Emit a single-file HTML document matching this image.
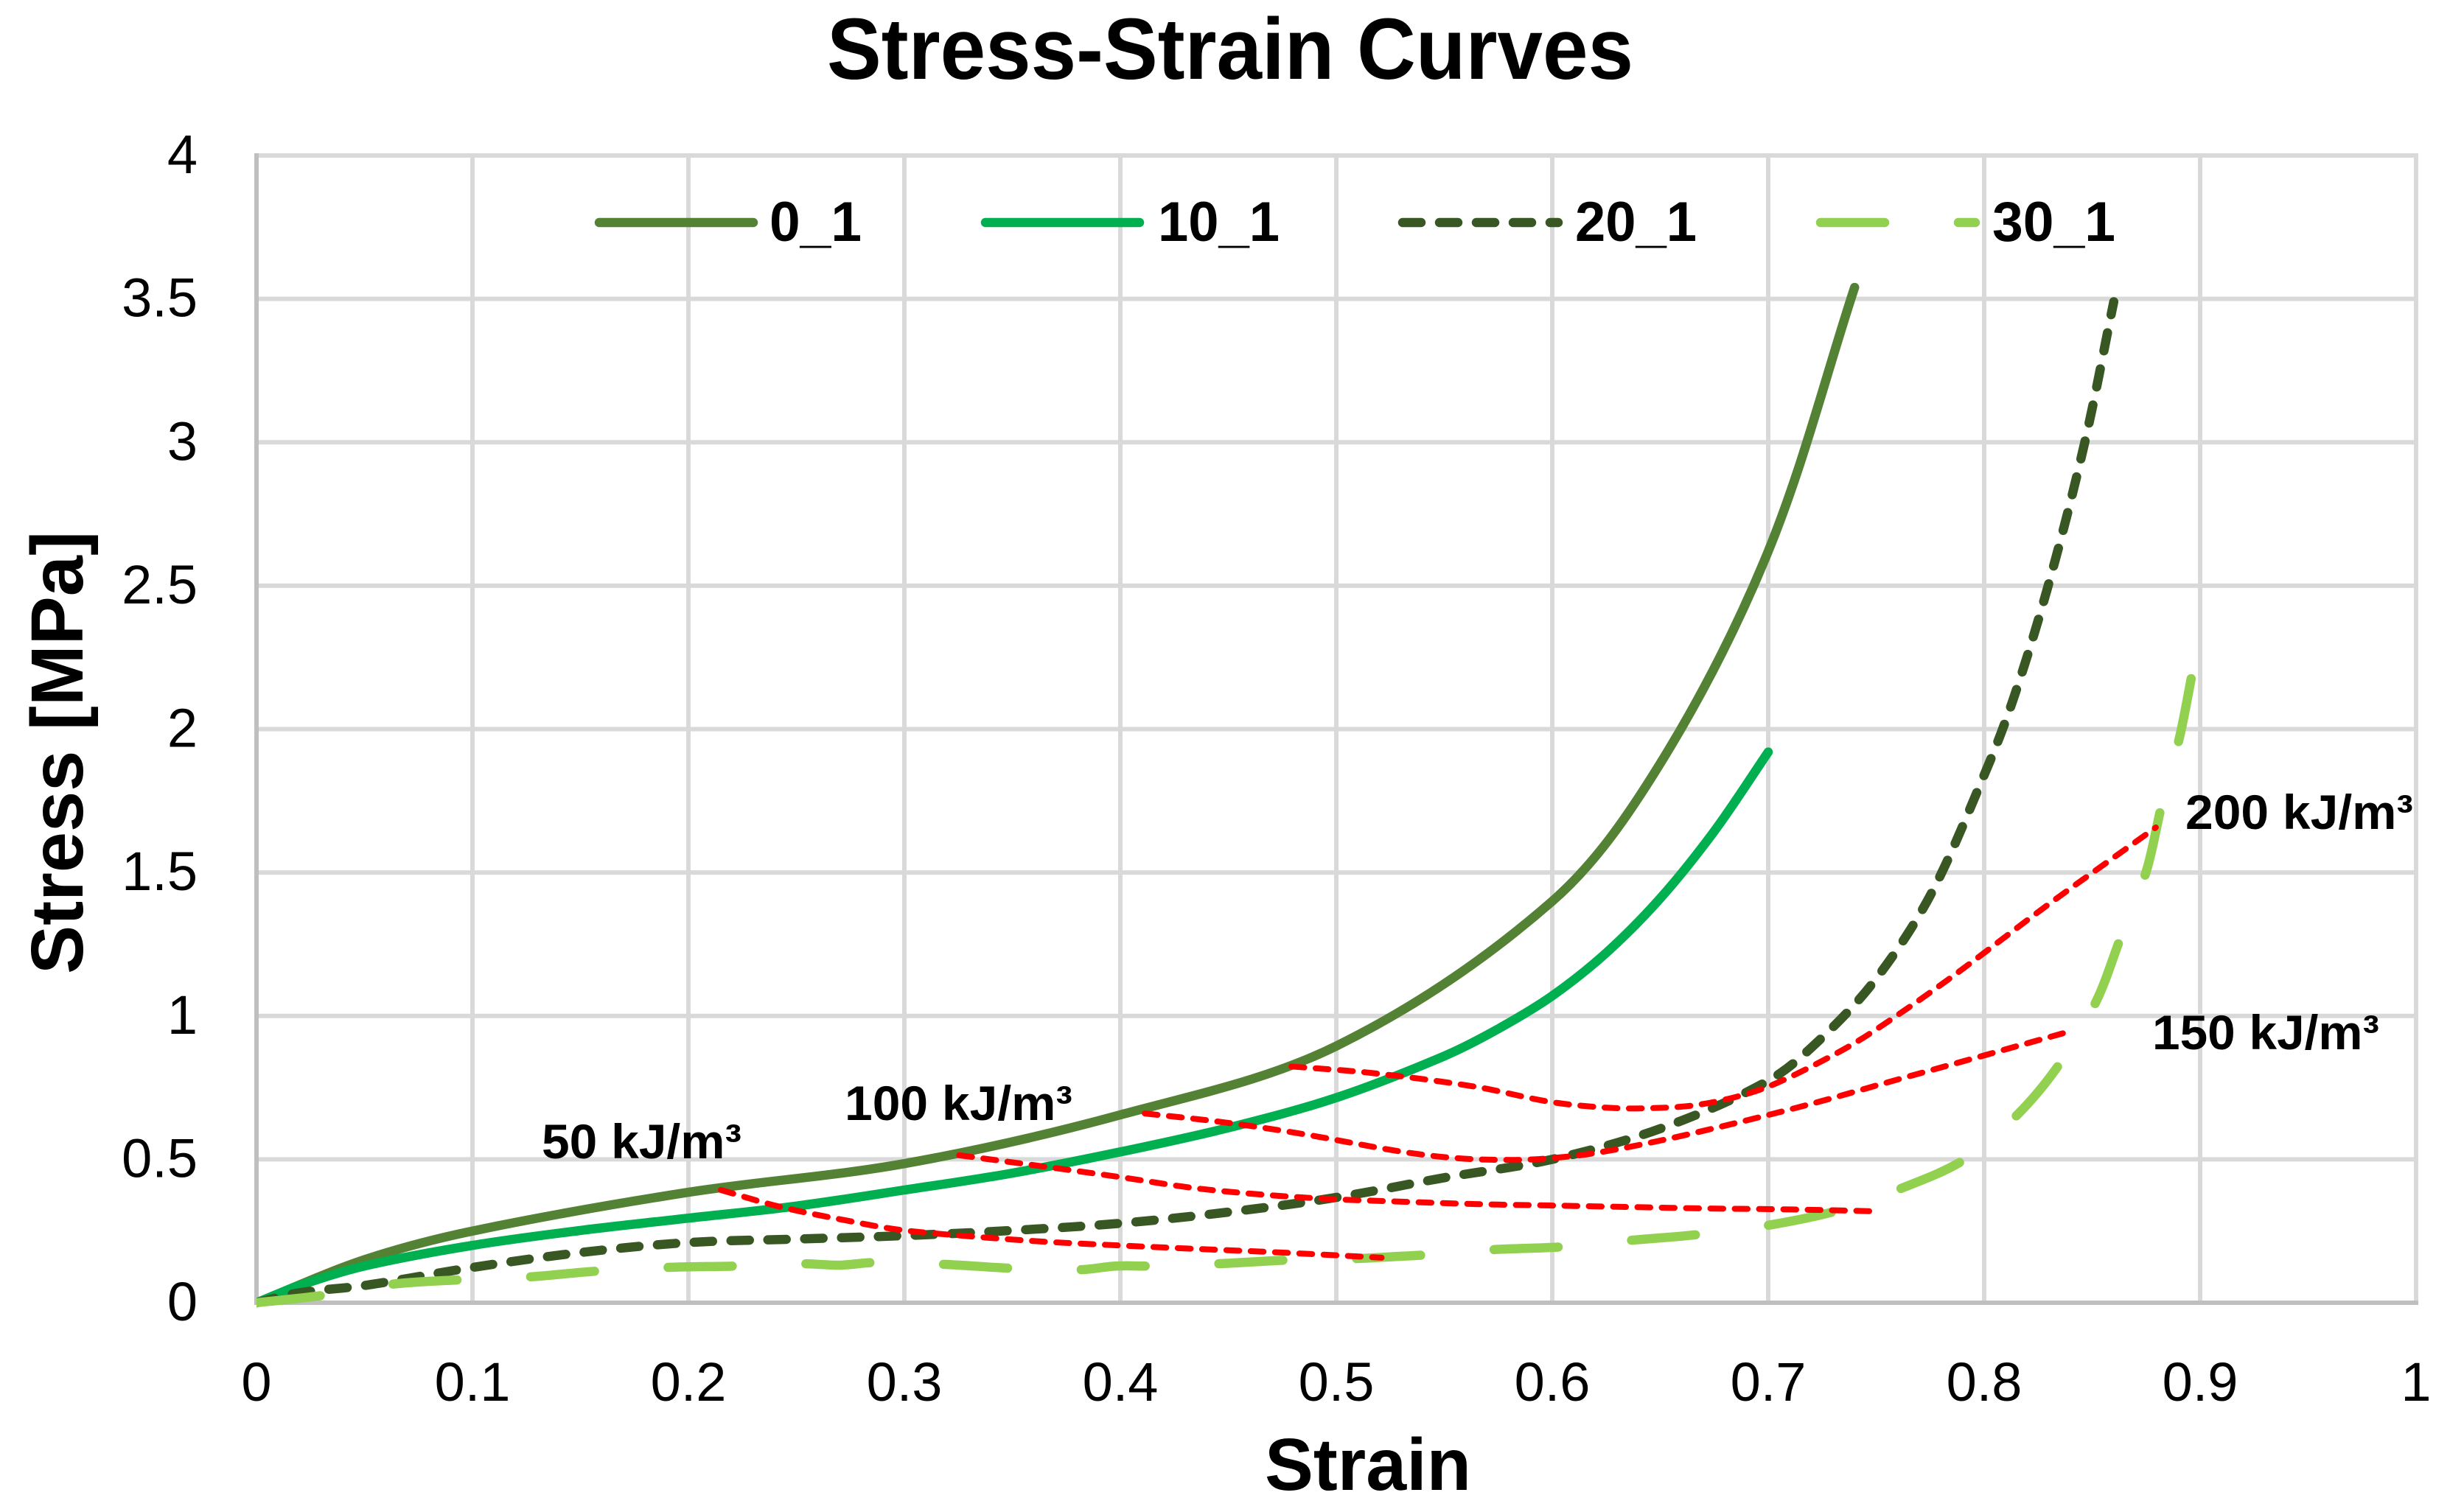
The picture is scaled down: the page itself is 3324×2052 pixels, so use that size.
<!DOCTYPE html>
<html lang="en">
<head>
<meta charset="utf-8">
<title>Stress-Strain Curves</title>
<style>
html,body{margin:0;padding:0;background:#fff;width:3324px;height:2052px;overflow:hidden}
svg{display:block}
text{font-family:"Liberation Sans",sans-serif;fill:#000}
.b{font-weight:700}
</style>
</head>
<body>
<svg id="chart" xmlns="http://www.w3.org/2000/svg" width="3324" height="2052" viewBox="0 0 3324 2052">
  <defs><clipPath id="plot-clip"><rect x="348" y="100" width="2990" height="1700"/></clipPath></defs>
  <rect x="0" y="0" width="3324" height="2052" fill="#fff"/>
  <g id="grid"></g>
  <g id="axes"></g>
  <g id="legend-lines">
    <line x1="813" y1="302" x2="1022" y2="302" stroke="#548235" stroke-width="12.5" stroke-linecap="round"/>
    <line x1="1337" y1="302" x2="1546" y2="302" stroke="#00B050" stroke-width="12.5" stroke-linecap="round"/>
    <line x1="1903" y1="302" x2="2114" y2="302" stroke="#385723" stroke-width="12.5" stroke-linecap="round" stroke-dasharray="25 25"/>
    <line x1="2470" y1="302" x2="2680" y2="302" stroke="#92D050" stroke-width="12.5" stroke-linecap="round" stroke-dasharray="87 100"/>
    <text class="b" x="1044" y="327" font-size="76" textLength="125" lengthAdjust="spacingAndGlyphs">0_1</text>
    <text class="b" x="1571" y="327" font-size="76" textLength="165" lengthAdjust="spacingAndGlyphs">10_1</text>
    <text class="b" x="2137" y="327" font-size="76" textLength="165" lengthAdjust="spacingAndGlyphs">20_1</text>
    <text class="b" x="2703" y="327" font-size="76" textLength="167" lengthAdjust="spacingAndGlyphs">30_1</text>
  </g>
  <g id="series" clip-path="url(#plot-clip)"></g>
  <text class="b" x="1122" y="107" font-size="118" textLength="1094" lengthAdjust="spacingAndGlyphs">Stress-Strain Curves</text>
  <text class="b" x="1716" y="2022" font-size="100" textLength="280" lengthAdjust="spacingAndGlyphs">Strain</text>
  <text class="b" transform="translate(112 1322) rotate(-90)" x="0" y="0" font-size="100" textLength="601" lengthAdjust="spacingAndGlyphs">Stress [MPa]</text>
  <text class="b" x="735" y="1572" font-size="66" textLength="271" lengthAdjust="spacingAndGlyphs">50 kJ/m³</text>
  <text class="b" x="1146" y="1520" font-size="66" textLength="309" lengthAdjust="spacingAndGlyphs">100 kJ/m³</text>
  <text class="b" x="2920" y="1424" font-size="66" textLength="308" lengthAdjust="spacingAndGlyphs">150 kJ/m³</text>
  <text class="b" x="2965" y="1125" font-size="66" textLength="309" lengthAdjust="spacingAndGlyphs">200 kJ/m³</text>
</svg>
<script>
var xTickLabels = ["0","0.1","0.2","0.3","0.4","0.5","0.6","0.7","0.8","0.9","1"];
var yTickLabels = ["0","0.5","1","1.5","2","2.5","3","3.5","4"];

var strain0 = [0,.05,.1,.2,.3,.4,.5,.6,.65,.7,.74];
var stress0 = [0,.15,.25,.385,.485,.655,.895,1.40,1.88,2.62,3.54];

var strain10 = [0,.02,.05,.1,.15,.2,.25,.3,.35,.4,.45,.5,.55,.575,.6,.625,.65,.675,.7];
var stress10 = [0,.06,.128,.2,.252,.295,.337,.393,.452,.526,.61,.715,.86,.955,1.07,1.22,1.41,1.644,1.92];

var strain20 = [0,.02,.05,.1,.15,.2,.25,.3,.35,.4,.45,.5,.55,.6,.65,.7,.725,.75,.775,.8,.8136,.83,.8465,.86];
var stress20 = [0,.035,.06,.123,.175,.21,.222,.234,.252,.277,.316,.367,.436,.50,.607,.774,.925,1.13,1.42,1.84,2.107,2.51,2.997,3.49];

var strain30 = [0,.03,.062,.094,.126,.157,.19,.222,.253,.27,.286,.318,.35,.381,.398,.414,.445,.478,.509,.53,.542,.572,.605,.637,.669,.70,.732,.762,.791,.8157,.8354,.852,.863,.875,.882,.8905,.8966];
var stress30 = [0,.025,.064,.08,.09,.11,.123,.128,.136,.131,.14,.134,.12,.115,.128,.128,.136,.149,.154,.162,.167,.185,.195,.218,.239,.27,.321,.40,.50,.658,.838,1.053,1.269,1.503,1.729,1.973,2.205];

var strainE50 = [.215,.2427,.2757,.298,.3314,.3645,.399,.434,.469,.5036,.521];
var stressE50 = [.393,.334,.283,.254,.231,.213,.20,.188,.177,.164,.157];

var strainE100 = [.3254,.3645,.399,.434,.469,.502,.528,.5645,.5993,.634,.669,.7037,.7386,.7515];
var stressE100 = [.514,.475,.439,.40,.375,.36,.353,.344,.339,.334,.329,.326,.321,.318];

var strainE150 = [.4113,.448,.483,.53,.5558,.582,.5993,.62,.6516,.6863,.7212,.756,.7908,.8197,.8415];
var stressE150 = [.66,.629,.59,.527,.504,.498,.504,.522,.568,.629,.696,.77,.843,.904,.95];

var strainE200 = [.4792,.5177,.5645,.5993,.6253,.643,.6655,.6863,.7037,.73,.7474,.783,.83,.8795];
var stressE200 = [.824,.80,.753,.70,.68,.678,.688,.72,.765,.863,.94,1.125,1.39,1.657];

var NS = "http://www.w3.org/2000/svg";
var PLOT_L = 348, PLOT_W = 2930, PLOT_B = 1768, PLOT_H = 1557;
var X_MAX = 1, Y_MAX = 4;
function sx(v){ return PLOT_L + v / X_MAX * PLOT_W; }
function sy(v){ return PLOT_B - v / Y_MAX * PLOT_H; }

function smoothPath(xs, ys){
  var p = xs.map(function(x,i){ return [sx(x), sy(ys[i])]; });
  var d = "M" + p[0][0].toFixed(1) + " " + p[0][1].toFixed(1);
  function dist(a,b){ return Math.hypot(a[0]-b[0], a[1]-b[1]) || 1; }
  function tan(i){
    var a = p[Math.max(i-1,0)], b = p[Math.min(i+1,p.length-1)], l = dist(a,b);
    return [(b[0]-a[0])/l, (b[1]-a[1])/l];
  }
  for (var i = 0; i < p.length-1; i++){
    var s = dist(p[i],p[i+1])/3, t0 = tan(i), t1 = tan(i+1);
    d += "C" + (p[i][0]+t0[0]*s).toFixed(1) + " " + (p[i][1]+t0[1]*s).toFixed(1) + " "
       + (p[i+1][0]-t1[0]*s).toFixed(1) + " " + (p[i+1][1]-t1[1]*s).toFixed(1) + " "
       + p[i+1][0].toFixed(1) + " " + p[i+1][1].toFixed(1);
  }
  return d;
}

var grid = document.getElementById("grid");
var axes = document.getElementById("axes");
var series = document.getElementById("series");

xTickLabels.forEach(function(label){
  var v = parseFloat(label);
  var l = document.createElementNS(NS,"line");
  
  
  l.setAttribute("x1", sx(v)); l.setAttribute("x2", sx(v));
  l.setAttribute("y1", sy(Y_MAX)-3); l.setAttribute("y2", sy(0));
  l.setAttribute("stroke", "#D9D9D9"); l.setAttribute("stroke-width", "6");
  grid.appendChild(l);
  var t = document.createElementNS(NS,"text");
  
  
  t.setAttribute("x", sx(v)); t.setAttribute("y", 1901);
  t.setAttribute("font-size", "74"); t.setAttribute("text-anchor", "middle");
  t.textContent = label;
  axes.appendChild(t);
});

yTickLabels.forEach(function(label){
  var v = parseFloat(label);
  var l = document.createElementNS(NS,"line");
  
  
  l.setAttribute("x1", sx(0)); l.setAttribute("x2", sx(X_MAX)+3);
  l.setAttribute("y1", sy(v)); l.setAttribute("y2", sy(v));
  l.setAttribute("stroke", "#D9D9D9"); l.setAttribute("stroke-width", "6");
  grid.appendChild(l);
  var t = document.createElementNS(NS,"text");
  
  
  t.setAttribute("x", 268); t.setAttribute("y", sy(v)+24);
  t.setAttribute("font-size", "74"); t.setAttribute("text-anchor", "end");
  t.textContent = label;
  axes.appendChild(t);
});

var xAxisLine = document.createElementNS(NS,"line");


xAxisLine.setAttribute("x1", sx(0)-3); xAxisLine.setAttribute("x2", sx(X_MAX)+3);
xAxisLine.setAttribute("y1", sy(0)); xAxisLine.setAttribute("y2", sy(0));
xAxisLine.setAttribute("stroke", "#BFBFBF"); xAxisLine.setAttribute("stroke-width", "6");
axes.appendChild(xAxisLine);

var yAxisLine = document.createElementNS(NS,"line");


yAxisLine.setAttribute("x1", sx(0)); yAxisLine.setAttribute("x2", sx(0));
yAxisLine.setAttribute("y1", sy(Y_MAX)-3); yAxisLine.setAttribute("y2", sy(0)+3);
yAxisLine.setAttribute("stroke", "#BFBFBF"); yAxisLine.setAttribute("stroke-width", "6");
axes.appendChild(yAxisLine);

function addCurve(name, xs, ys, color, width, dash){
  var el = document.createElementNS(NS,"path");
  
  
  el.setAttribute("d", smoothPath(xs, ys));
  el.setAttribute("fill", "none");
  el.setAttribute("stroke", color);
  el.setAttribute("stroke-width", width);
  el.setAttribute("stroke-linecap", "round");
  el.setAttribute("stroke-linejoin", "round");
  if (dash) el.setAttribute("stroke-dasharray", dash);
  series.appendChild(el);
}

addCurve("curve-0-1", strain0, stress0, "#548235", 12.5);
addCurve("curve-10-1", strain10, stress10, "#00B050", 12.5);
addCurve("curve-20-1", strain20, stress20, "#385723", 12.5, "25 25");
addCurve("curve-30-1", strain30, stress30, "#92D050", 12.5, "87 100");
addCurve("energy-curve-50", strainE50, stressE50, "#FF0000", 8, "17.5 15.5");
addCurve("energy-curve-100", strainE100, stressE100, "#FF0000", 8, "17.5 15.5");
addCurve("energy-curve-150", strainE150, stressE150, "#FF0000", 8, "17.5 15.5");
addCurve("energy-curve-200", strainE200, stressE200, "#FF0000", 8, "17.5 15.5");
</script>
</body>
</html>
